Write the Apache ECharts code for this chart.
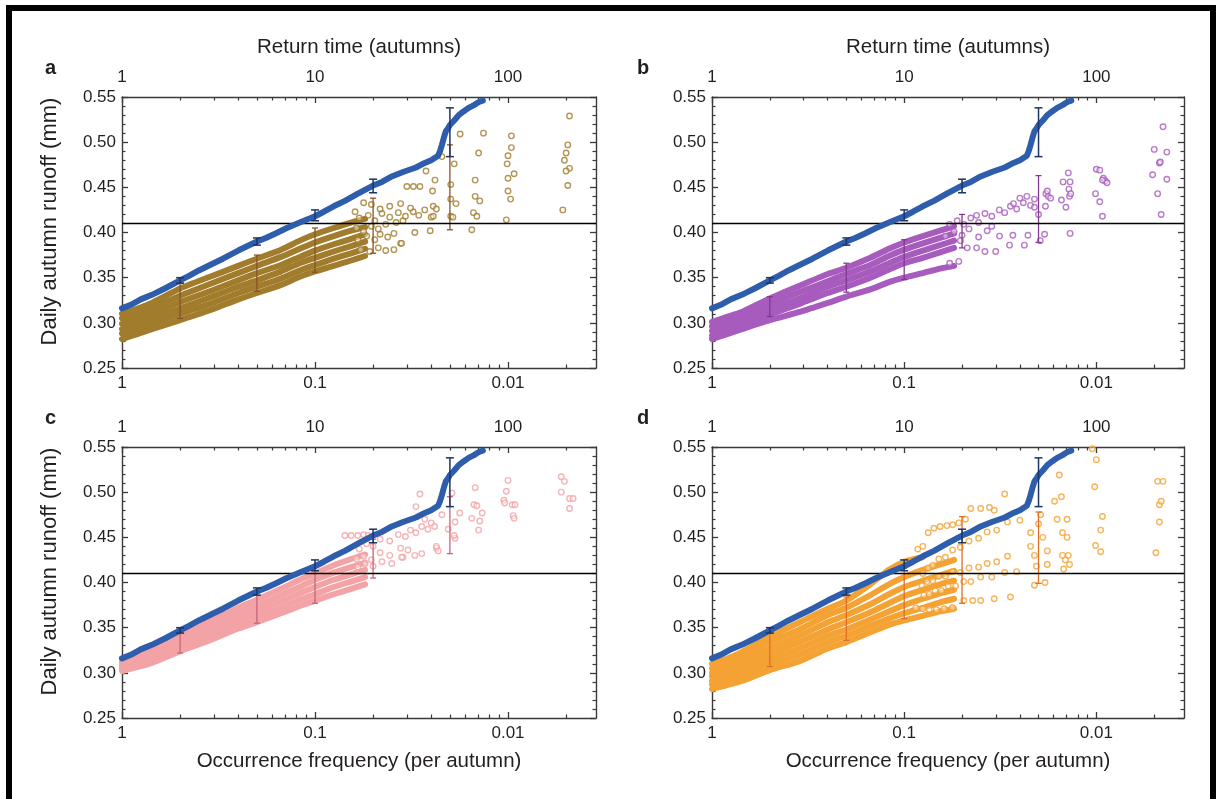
<!DOCTYPE html>
<html><head><meta charset="utf-8">
<script src="https://cdn.jsdelivr.net/npm/echarts@6/dist/echarts.min.js"></script>
<style>html,body{margin:0;padding:0;background:#fff;}#c{width:1216px;height:799px;}</style>
</head><body><div id="c"></div>
<script>
// ---------------- data ----------------
const FMIN = 0.0035;
const freqTicks = [1, 0.1, 0.01];
const freqTickLabels = ['1', '0.1', '0.01'];
const returnTicks = [1, 10, 100];
const returnTickLabels = ['1', '10', '100'];
const minorFreqTicks = [0.5, 0.3333, 0.25, 0.2, 0.1667, 0.1429, 0.125, 0.1111, 0.05, 0.0333, 0.025, 0.02, 0.0167, 0.0143, 0.0125, 0.0111, 0.005];
const minorReturnTicks = [2, 3, 4, 5, 6, 7, 8, 9, 20, 30, 40, 50, 60, 70, 80, 90, 200];
const thresholdRunoff = 0.41;
const panelLetters = ['a', 'b', 'c', 'd'];

// observed (blue) ranked runoff
const blueFreq = [1, 0.9, 0.8, 0.7, 0.6, 0.5, 0.45, 0.4, 0.35, 0.3, 0.25, 0.2, 0.18, 0.16, 0.14, 0.12, 0.1, 0.09, 0.08, 0.07, 0.06, 0.05, 0.045, 0.04, 0.035, 0.03, 0.027, 0.025, 0.023, 0.0225, 0.022, 0.0215, 0.021, 0.0205, 0.02, 0.019, 0.018, 0.017, 0.016, 0.015, 0.0145, 0.014, 0.0135];
const blueRunoff = [0.316, 0.320, 0.326, 0.331, 0.338, 0.347, 0.352, 0.358, 0.364, 0.371, 0.380, 0.390, 0.394, 0.399, 0.405, 0.411, 0.418, 0.423, 0.429, 0.435, 0.443, 0.452, 0.456, 0.462, 0.467, 0.472, 0.477, 0.480, 0.485, 0.490, 0.497, 0.505, 0.512, 0.515, 0.519, 0.524, 0.530, 0.534, 0.538, 0.541, 0.543, 0.545, 0.546];
const errFreq = [0.5, 0.2, 0.1, 0.05, 0.02];
const blueErrLow = [0.344, 0.386, 0.413, 0.444, 0.484];
const blueErrHigh = [0.350, 0.394, 0.425, 0.459, 0.538];

// ensemble strands (dense part), runoff at strandFreq
const strandFreq = [1, 0.85, 0.7, 0.5, 0.35, 0.25, 0.2, 0.15, 0.12, 0.1, 0.08, 0.065, 0.055];
const strandsA = [
  [0.282, 0.287, 0.293, 0.303, 0.314, 0.326, 0.333, 0.342, 0.351, 0.357, 0.363, 0.369, 0.374],
  [0.288, 0.293, 0.299, 0.310, 0.321, 0.333, 0.340, 0.349, 0.358, 0.364, 0.371, 0.377, 0.382],
  [0.293, 0.298, 0.304, 0.316, 0.328, 0.340, 0.347, 0.357, 0.366, 0.372, 0.379, 0.385, 0.390],
  [0.299, 0.304, 0.310, 0.323, 0.335, 0.347, 0.355, 0.364, 0.373, 0.380, 0.387, 0.393, 0.398],
  [0.305, 0.310, 0.316, 0.330, 0.343, 0.355, 0.363, 0.373, 0.382, 0.389, 0.396, 0.402, 0.406],
  [0.310, 0.315, 0.322, 0.338, 0.351, 0.363, 0.371, 0.381, 0.391, 0.398, 0.405, 0.411, 0.415]
];
const strandsB = [
  [0.282, 0.287, 0.293, 0.303, 0.312, 0.322, 0.329, 0.337, 0.345, 0.350, 0.355, 0.360, 0.363],
  [0.286, 0.291, 0.297, 0.309, 0.321, 0.333, 0.340, 0.350, 0.359, 0.366, 0.372, 0.378, 0.383],
  [0.291, 0.296, 0.302, 0.315, 0.327, 0.340, 0.347, 0.357, 0.366, 0.373, 0.380, 0.386, 0.391],
  [0.296, 0.301, 0.307, 0.321, 0.334, 0.346, 0.354, 0.364, 0.374, 0.381, 0.388, 0.394, 0.399],
  [0.301, 0.306, 0.312, 0.327, 0.341, 0.354, 0.361, 0.372, 0.382, 0.389, 0.396, 0.402, 0.407]
];
const strandsC = [
  [0.302, 0.306, 0.311, 0.324, 0.336, 0.349, 0.356, 0.366, 0.374, 0.380, 0.387, 0.393, 0.398],
  [0.305, 0.309, 0.315, 0.329, 0.341, 0.355, 0.362, 0.372, 0.381, 0.387, 0.395, 0.401, 0.406],
  [0.308, 0.312, 0.319, 0.333, 0.347, 0.361, 0.368, 0.379, 0.388, 0.395, 0.403, 0.409, 0.414],
  [0.311, 0.315, 0.322, 0.338, 0.352, 0.366, 0.374, 0.386, 0.395, 0.403, 0.411, 0.417, 0.422],
  [0.313, 0.318, 0.325, 0.342, 0.357, 0.372, 0.381, 0.393, 0.403, 0.410, 0.419, 0.426, 0.431]
];
const strandsD = [
  [0.282, 0.286, 0.291, 0.303, 0.313, 0.327, 0.334, 0.345, 0.353, 0.358, 0.363, 0.368, 0.371],
  [0.287, 0.291, 0.297, 0.309, 0.320, 0.334, 0.341, 0.352, 0.360, 0.366, 0.372, 0.378, 0.382],
  [0.291, 0.296, 0.302, 0.315, 0.327, 0.341, 0.348, 0.359, 0.368, 0.375, 0.382, 0.388, 0.392],
  [0.296, 0.300, 0.307, 0.321, 0.334, 0.348, 0.356, 0.367, 0.377, 0.385, 0.392, 0.398, 0.402],
  [0.300, 0.305, 0.312, 0.327, 0.341, 0.356, 0.364, 0.376, 0.387, 0.395, 0.402, 0.408, 0.413],
  [0.305, 0.310, 0.318, 0.334, 0.348, 0.364, 0.372, 0.386, 0.398, 0.406, 0.414, 0.420, 0.425],
  [0.310, 0.315, 0.323, 0.340, 0.356, 0.371, 0.380, 0.398, 0.414, 0.423, 0.428, null, null]
];

// ensemble sparse tail points [frequency, runoff]
const tailA = [
  [0.058,0.381],[0.052,0.379],[0.047,0.383],[0.043,0.380],[0.039,0.381],[0.036,0.388],
  [0.060,0.392],[0.054,0.396],[0.049,0.392],[0.046,0.398],[0.042,0.395],[0.039,0.399],
  [0.061,0.405],[0.056,0.401],[0.051,0.407],[0.047,0.404],[0.043,0.409],[0.038,0.411],[0.035,0.413],
  [0.059,0.416],[0.053,0.419],[0.049,0.413],[0.045,0.421],[0.041,0.417],[0.037,0.422],[0.034,0.418],[0.031,0.423],[0.029,0.419],[0.027,0.425],[0.025,0.417],
  [0.051,0.431],[0.046,0.426],[0.041,0.429],[0.036,0.432],[0.032,0.427],[0.062,0.423],[0.056,0.433],
  [0.0334,0.451],[0.0309,0.451],[0.0286,0.451],[0.0266,0.468],[0.0304,0.400],[0.0253,0.402],[0.0356,0.388],
  [0.0246,0.446],[0.0244,0.429],[0.0244,0.418],[0.0235,0.426],[0.0239,0.458],[0.0220,0.484],
  [0.0198,0.453],[0.0198,0.437],[0.0186,0.432],[0.0198,0.418],[0.0193,0.417],[0.0190,0.476],
  [0.0177,0.509],[0.0142,0.488],[0.0148,0.458],[0.0148,0.440],[0.0140,0.435],[0.0151,0.422],[0.0145,0.418],[0.0154,0.403],[0.0134,0.510],
  [0.0096,0.507],[0.0096,0.494],[0.0100,0.485],[0.0101,0.476],[0.0093,0.465],[0.0100,0.460],[0.0100,0.446],[0.0097,0.437],[0.0102,0.414],
  [0.0048,0.529],[0.0049,0.497],[0.0050,0.488],[0.0051,0.480],[0.0048,0.471],[0.0050,0.468],[0.0049,0.452],[0.0052,0.425]
];
const tailB = [
  [0.058,0.366],[0.052,0.368],[0.047,0.383],[0.042,0.383],[0.038,0.379],[0.0334,0.379],[0.0319,0.396],[0.0283,0.386],[0.0272,0.397],[0.0237,0.386],[0.0227,0.397],[0.0196,0.391],[0.0186,0.398],[0.0137,0.399],
  [0.061,0.396],[0.055,0.401],[0.050,0.397],[0.046,0.404],[0.058,0.409],[0.053,0.413],[0.049,0.409],[0.045,0.416],[0.041,0.411],[0.042,0.419],[0.038,0.421],[0.035,0.418],[0.032,0.425],[0.030,0.422],[0.028,0.429],[0.026,0.426],[0.024,0.433],[0.022,0.430],[0.021,0.437],[0.051,0.391],[0.041,0.395],[0.037,0.402],[0.035,0.407],
  [0.027,0.432],[0.025,0.438],[0.023,0.440],[0.021,0.428],[0.020,0.420],
  [0.0183,0.443],[0.0178,0.440],[0.0173,0.438],[0.0180,0.446],[0.0184,0.429],[0.0152,0.436],[0.0144,0.428],[0.0140,0.466],[0.0149,0.456],[0.0137,0.456],[0.0139,0.448],[0.0138,0.440],[0.0136,0.443],
  [0.0100,0.470],[0.0096,0.469],[0.0092,0.460],[0.0090,0.457],[0.0088,0.455],[0.0093,0.458],[0.0101,0.443],[0.0096,0.434],[0.0093,0.418],
  [0.0045,0.517],[0.0050,0.492],[0.0043,0.489],[0.0047,0.477],[0.00465,0.478],[0.0051,0.464],[0.0043,0.459],[0.0048,0.443],[0.0046,0.420]
];
const tailC = [
  [0.07,0.452],[0.065,0.452],[0.06,0.452],[0.056,0.453],[0.053,0.452],
  [0.059,0.437],[0.054,0.443],[0.050,0.440],[0.046,0.448],[0.041,0.446],[0.037,0.453],[0.034,0.451],[0.032,0.458],[0.030,0.455],[0.028,0.462],[0.026,0.459],
  [0.061,0.426],[0.056,0.429],[0.051,0.425],[0.046,0.433],[0.041,0.430],[0.036,0.438],[0.033,0.436],
  [0.060,0.417],[0.055,0.421],[0.050,0.418],[0.045,0.423],[0.040,0.421],[0.035,0.428],
  [0.028,0.432],[0.0304,0.430],[0.0356,0.428],[0.0235,0.438],[0.023,0.435],
  [0.0286,0.498],[0.030,0.484],[0.025,0.466],[0.024,0.462],
  [0.0148,0.505],[0.0100,0.513],[0.0102,0.501],[0.0105,0.491],[0.0104,0.488],[0.0095,0.486],[0.0092,0.486],[0.0094,0.474],[0.0093,0.471],
  [0.0053,0.517],[0.0051,0.512],[0.0053,0.500],[0.0048,0.493],[0.0046,0.493],[0.0048,0.482],
  [0.0150,0.486],[0.0136,0.477],[0.0145,0.485],[0.0154,0.471],[0.0140,0.468],[0.0142,0.458],[0.0178,0.477],[0.0195,0.499],[0.0188,0.467],[0.0220,0.475],[0.0204,0.459],[0.0188,0.449],[0.0190,0.452],[0.0235,0.440],[0.027,0.470]
];
const tailD = [
  [0.085,0.437],[0.080,0.440],[0.075,0.455],[0.070,0.460],[0.065,0.462],[0.060,0.463],[0.056,0.464],[0.052,0.466],[0.048,0.470],[0.045,0.482],[0.040,0.482],[0.036,0.483],[0.034,0.480],[0.030,0.498],[0.0156,0.519],[0.0152,0.495],[0.0105,0.548],[0.0100,0.536],[0.0102,0.506],
  [0.080,0.410],[0.075,0.416],[0.071,0.419],[0.066,0.426],[0.061,0.428],[0.056,0.436],[0.051,0.439],[0.046,0.446],[0.041,0.449],[0.037,0.456],[0.033,0.458],[0.029,0.467],[0.025,0.469],
  [0.081,0.397],[0.076,0.401],[0.071,0.402],[0.066,0.407],[0.061,0.407],[0.056,0.412],[0.051,0.411],[0.046,0.416],[0.041,0.417],[0.037,0.421],[0.033,0.423],[0.029,0.429],
  [0.079,0.386],[0.074,0.387],[0.069,0.391],[0.064,0.391],[0.059,0.396],[0.054,0.396],[0.049,0.401],[0.045,0.401],[0.040,0.406],[0.035,0.406],[0.030,0.411],[0.026,0.412],
  [0.087,0.372],[0.080,0.371],[0.074,0.370],[0.068,0.370],[0.062,0.371],[0.056,0.372],[0.049,0.380],[0.044,0.380],[0.040,0.380],[0.034,0.382],[0.028,0.384],
  [0.022,0.440],[0.021,0.430],[0.0205,0.418],[0.022,0.455],[0.020,0.465],[0.0195,0.475],[0.019,0.450],[0.018,0.435],[0.018,0.420],[0.0185,0.400],[0.021,0.397],[0.0165,0.490],[0.016,0.470],[0.015,0.455],[0.015,0.430],[0.0145,0.425],[0.0148,0.415],[0.0142,0.470],[0.0142,0.450],[0.0140,0.430],[0.0138,0.420],
  [0.0048,0.512],[0.0045,0.512],[0.0047,0.486],[0.0046,0.490],[0.0047,0.467],[0.0049,0.433],[0.0101,0.441],[0.0095,0.434],[0.0095,0.458],[0.0093,0.473]
];
// ensemble error bars at errFreq
const errLowA = [0.305, 0.335, 0.356, 0.377, 0.403];
const errHighA = [0.344, 0.375, 0.405, 0.438, 0.497];
const errLowB = [0.307, 0.334, 0.348, 0.383, 0.389];
const errHighB = [0.329, 0.366, 0.392, 0.420, 0.463];
const errLowC = [0.322, 0.355, 0.377, 0.405, 0.432];
const errHighC = [0.347, 0.388, 0.419, 0.448, 0.495];
const errLowD = [0.307, 0.336, 0.360, 0.377, 0.399];
const errHighD = [0.347, 0.384, 0.416, 0.473, 0.478];

// ---------------- styling ----------------
const FONT = 'Liberation Sans';
const TXT = '#231f20';
const AX = '#3a3a3a';
const BLUE = '#2d5dab';
const BLUE_ERR = '#1c3566';
const panels = [
  {strands: strandsA, tail: tailA, lo: errLowA, hi: errHighA, color: '#a07c2c', err: '#8a5226', w: 6},
  {strands: strandsB, tail: tailB, lo: errLowB, hi: errHighB, color: '#a65bbd', err: '#83398f', w: 6},
  {strands: strandsC, tail: tailC, lo: errLowC, hi: errHighC, color: '#f3a3a5', err: '#c8647c', w: 6},
  {strands: strandsD, tail: tailD, lo: errLowD, hi: errHighD, color: '#f3a233', err: '#de6f26', w: 6}
];
const grids = [
  {left: 122, top: 97, width: 474, height: 271},
  {left: 712, top: 97, width: 472, height: 271},
  {left: 122, top: 447, width: 474, height: 271},
  {left: 712, top: 447, width: 472, height: 271}
];

function labelFor(values, labels) {
  return function (v) {
    for (let i = 0; i < values.length; i++) {
      if (Math.abs(Math.log10(v) - Math.log10(values[i])) < 1e-4) return labels[i];
    }
    return '';
  };
}
function errRender(cap, color, width) {
  return function (params, api) {
    const f = api.value(0), lo = api.value(1), hi = api.value(2);
    const p1 = api.coord([f, lo]), p2 = api.coord([f, hi]);
    const st = {stroke: color, lineWidth: width};
    return {type: 'group', children: [
      {type: 'line', shape: {x1: p1[0], y1: p1[1], x2: p2[0], y2: p2[1]}, style: st},
      {type: 'line', shape: {x1: p1[0] - cap, y1: p1[1], x2: p1[0] + cap, y2: p1[1]}, style: st},
      {type: 'line', shape: {x1: p2[0] - cap, y1: p2[1], x2: p2[0] + cap, y2: p2[1]}, style: st}
    ]};
  };
}
const tickFont = {fontFamily: FONT, fontSize: 17, color: TXT};
const nameFont = {fontFamily: FONT, fontSize: 20.5, color: TXT};
const yNameFont = {fontFamily: FONT, fontSize: 22, color: TXT, padding: [0, 0, 0, 22]};

const xAxes = [], yAxes = [], series = [];
grids.forEach(function (g, p) {
  const isTop = p < 2, isLeft = p % 2 === 0;
  const baseX = {gridIndex: p, type: 'log', logBase: 10, splitLine: {show: false}, minorTick: {show: false}};
  xAxes.push(Object.assign({}, baseX, {
    position: 'bottom', inverse: true, min: FMIN, max: 1,
    axisLine: {show: true, onZero: false, lineStyle: {color: AX, width: 1.4}},
    axisTick: {show: true, inside: true, length: 6, customValues: freqTicks, lineStyle: {color: AX, width: 1.3}},
    axisLabel: {show: true, customValues: freqTicks, formatter: labelFor(freqTicks, freqTickLabels), margin: 7, ...tickFont},
    name: isTop ? '' : 'Occurrence frequency (per autumn)', nameLocation: 'middle', nameGap: 33, nameTextStyle: nameFont
  }));
  xAxes.push(Object.assign({}, baseX, {
    position: 'bottom', inverse: true, min: FMIN, max: 1,
    axisLine: {show: false},
    axisTick: {show: true, inside: true, length: 3.5, customValues: minorFreqTicks, lineStyle: {color: AX, width: 1.2}},
    axisLabel: {show: false}
  }));
  xAxes.push(Object.assign({}, baseX, {
    position: 'top', min: 1, max: 1 / FMIN,
    axisLine: {show: true, onZero: false, lineStyle: {color: AX, width: 1.4}},
    axisTick: {show: true, inside: true, length: 6, customValues: returnTicks, lineStyle: {color: AX, width: 1.3}},
    axisLabel: {show: true, customValues: returnTicks, formatter: labelFor(returnTicks, returnTickLabels), margin: 11, ...tickFont},
    name: isTop ? 'Return time (autumns)' : '', nameLocation: 'middle', nameGap: 39, nameTextStyle: nameFont
  }));
  xAxes.push(Object.assign({}, baseX, {
    position: 'top', min: 1, max: 1 / FMIN,
    axisLine: {show: false},
    axisTick: {show: true, inside: true, length: 3.5, customValues: minorReturnTicks, lineStyle: {color: AX, width: 1.2}},
    axisLabel: {show: false}
  }));
  const baseY = {gridIndex: p, type: 'value', min: 0.25, max: 0.55, interval: 0.05, splitLine: {show: false},
    axisLine: {show: true, onZero: false, lineStyle: {color: AX, width: 1.4}},
    axisTick: {show: true, inside: true, length: 6, lineStyle: {color: AX, width: 1.3}},
    minorTick: {show: true, splitNumber: 5, length: 3.5, lineStyle: {color: AX, width: 1.2}},
    minorSplitLine: {show: false}};
  yAxes.push(Object.assign({}, baseY, {
    position: 'left',
    axisLabel: {show: true, margin: 6, formatter: function (v) { return v.toFixed(2); }, ...tickFont},
    name: isLeft ? 'Daily autumn runoff (mm)' : '', nameLocation: 'middle', nameGap: 61, nameRotate: 90, nameTextStyle: yNameFont
  }));
  yAxes.push(Object.assign({}, baseY, {position: 'right', axisLabel: {show: false}}));

  const xi = 4 * p, yi = 2 * p;
  const P = panels[p];
  P.strands.forEach(function (s) {
    series.push({type: 'line', xAxisIndex: xi, yAxisIndex: yi, z: 2, silent: true, showSymbol: false, symbol: 'none',
      smooth: 0.2, connectNulls: false,
      lineStyle: {color: P.color, width: P.w, cap: 'round', join: 'round'},
      data: strandFreq.map(function (f, i) { return [f, s[i]]; })});
  });
  series.push({type: 'scatter', xAxisIndex: xi, yAxisIndex: yi, z: 3, silent: true, symbol: 'circle', symbolSize: 5.5,
    itemStyle: {color: 'rgba(255,255,255,0.55)', borderColor: P.color, borderWidth: 1.4},
    data: P.tail});
  series.push({type: 'custom', xAxisIndex: xi, yAxisIndex: yi, z: 4, silent: true,
    renderItem: errRender(3, P.err, 1.3),
    encode: {x: 0, y: [1, 2]},
    data: errFreq.map(function (f, i) { return [f, P.lo[i], P.hi[i]]; })});
  series.push({type: 'line', xAxisIndex: xi, yAxisIndex: yi, z: 5, silent: true, showSymbol: false, symbol: 'none',
    lineStyle: {color: BLUE, width: 6, cap: 'round', join: 'round'},
    data: blueFreq.map(function (f, i) { return [f, blueRunoff[i]]; }),
    markLine: {silent: true, symbol: 'none', label: {show: false}, animation: false,
      lineStyle: {color: '#000', width: 1.3, type: 'solid'}, data: [{yAxis: thresholdRunoff}]}});
  series.push({type: 'custom', xAxisIndex: xi, yAxisIndex: yi, z: 6, silent: true,
    renderItem: errRender(4, BLUE_ERR, 1.5),
    encode: {x: 0, y: [1, 2]},
    data: errFreq.map(function (f, i) { return [f, blueErrLow[i], blueErrHigh[i]]; })});
});

const letterPos = [[45, 68], [637, 68], [45, 418], [637, 418]];
const graphics = [
  {type: 'rect', shape: {x: 6, y: 5, width: 1210, height: 6}, style: {fill: '#000'}},
  {type: 'rect', shape: {x: 6, y: 5, width: 6, height: 794}, style: {fill: '#000'}},
  {type: 'rect', shape: {x: 1210, y: 5, width: 6, height: 794}, style: {fill: '#000'}}
];
panelLetters.forEach(function (L, i) {
  graphics.push({type: 'text', x: letterPos[i][0], y: letterPos[i][1],
    style: {text: L, fill: TXT, font: 'bold 20px ' + FONT, verticalAlign: 'middle'}});
});

const chart = echarts.init(document.getElementById('c'), null, {renderer: 'canvas'});
chart.setOption({
  animation: false,
  backgroundColor: '#fff',
  textStyle: {fontFamily: FONT, color: TXT},
  grid: grids.map(function (g) { return Object.assign({containLabel: false, outerBoundsMode: 'none'}, g); }),
  xAxis: xAxes,
  yAxis: yAxes,
  series: series,
  graphic: graphics
});
</script></body></html>
